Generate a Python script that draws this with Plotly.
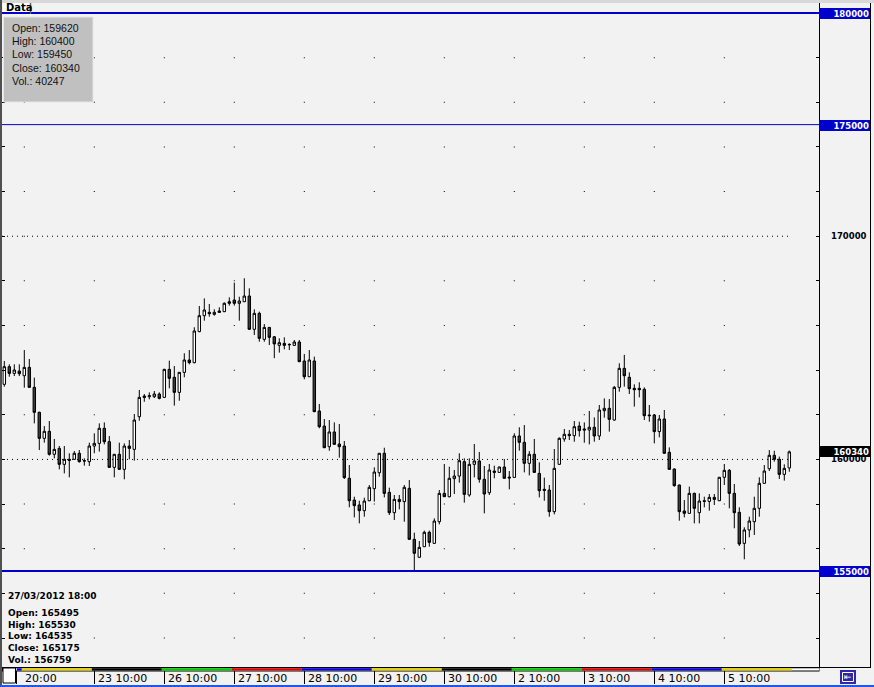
import plotly.graph_objects as go

# ---------------- data (hourly candles) ----------------
open_ = [163365, 164155, 163855, 163960, 163750, 164125, 163230, 162110, 160945, 161260,
         160230, 160495, 159780, 160005, 160005, 160275, 159945, 159900, 160600, 160720,
         161395, 160795, 159645, 160230, 159555, 160600, 160450, 161915, 162840, 162810,
         162810, 162930, 162780, 164035, 163680, 163005, 163900, 164455, 164335, 165725,
         166440, 166590, 166500, 166650, 166620, 167065, 167140, 166995, 167065, 167320,
         165830, 166545, 165380, 165915, 165495, 165110, 165200, 165155, 165110, 165260,
         164410, 163705, 164410, 162170, 161495, 160570, 161230, 160690, 160600, 159155,
         158180, 157960, 157705, 158150, 158690, 159405, 160275, 158525, 157615, 158210,
         158110, 158705, 156420, 155615, 156090, 156735, 156240, 157210, 158480, 158330,
         159140, 159255, 159900, 158405, 159780, 159930, 159110, 158510, 159480, 159420,
         159660, 159210, 159195, 161050, 160765, 159825, 160230, 159375, 158660, 158630,
         157660, 159780, 160915, 161125, 161065, 161495, 161365, 161320, 161440, 161050,
         162185, 162290, 161765, 163230, 164080, 163680, 163185, 163185, 163140, 161990,
         161990, 161245, 161810, 160320, 159570, 158855, 157690, 157585, 158480, 157615,
         158150, 158120, 158300, 158150, 159200, 159510, 158480, 157630, 156240, 156840,
         157210, 157810, 158930, 159585, 160185, 160005, 159330, 159620]
high = [164410, 164260, 164260, 164260, 164900, 164500, 163665, 162140, 161495, 161720,
        160915, 160600, 160600, 160275, 160375, 160420, 160050, 160750, 161170, 161615,
        161660, 161050, 160245, 160750, 160720, 160870, 162035, 163110, 162930, 163005,
        163065, 163005, 164060, 164425, 164185, 163920, 164755, 164900, 165920, 166875,
        167215, 166965, 166725, 166815, 167035, 167260, 167920, 167290, 168115, 167665,
        166725, 166620, 166065, 165930, 165530, 165425, 165470, 165200, 165350, 165350,
        164725, 164900, 164605, 162485, 161810, 161765, 161660, 161585, 160825, 159750,
        158330, 158150, 158285, 158855, 159645, 160290, 160525, 158735, 158405, 158405,
        158855, 159080, 156720, 156345, 156810, 156810, 157360, 158630, 159795, 159675,
        159525, 160275, 160050, 160050, 160690, 160335, 159705, 159795, 159720, 159680,
        160020, 159480, 161170, 161440, 161540, 160375, 160915, 159870, 159185, 158855,
        160465, 160990, 161365, 161320, 161720, 161690, 161660, 162170, 161885, 162440,
        162735, 162705, 163290, 164305, 164680, 163900, 163365, 163455, 163230, 162440,
        162035, 161990, 162215, 160540, 159600, 158870, 158180, 158780, 158510, 158480,
        158330, 158450, 158450, 159215, 159795, 159570, 158900, 157855, 156960, 157435,
        158330, 159200, 159750, 160420, 160390, 160125, 159780, 160400]
low = [163260, 163705, 163735, 163735, 163215, 163200, 161615, 160420, 160750, 160170,
       160050, 159555, 159375, 159200, 159975, 159855, 159720, 159705, 160275, 160350,
       160675, 159620, 159200, 159530, 159110, 160005, 159945, 161735, 162585, 162690,
       162750, 162690, 162760, 163185, 162410, 162630, 163680, 164260, 164305, 165700,
       166215, 166395, 166440, 166575, 166600, 166890, 166890, 166215, 167050, 165810,
       165575, 165275, 165275, 165125, 164535, 164785, 164930, 164900, 165100, 164360,
       163590, 163690, 162120, 161395, 160510, 160390, 160660, 160080, 159125, 157855,
       157405, 157135, 157435, 158130, 158110, 159230, 158300, 157510, 157285, 157765,
       157210, 156400, 155020, 155600, 156080, 156090, 156225, 157090, 158320, 158300,
       158450, 158960, 158065, 158330, 159195, 158960, 157585, 158405, 159155, 159400,
       159140, 158660, 159180, 160395, 159420, 159285, 159405, 158300, 158150, 157435,
       157540, 159760, 160795, 160870, 160795, 161020, 160750, 160675, 160795, 160870,
       161870, 161245, 161735, 163035, 163260, 162930, 162365, 162780, 161765, 161690,
       160720, 160990, 160255, 159540, 158780, 157255, 157405, 157570, 157135, 157135,
       157855, 157705, 157960, 158135, 158855, 157810, 156915, 156120, 155525, 156510,
       156615, 157435, 158915, 159480, 159900, 159125, 159050, 159450]
close = [164155, 163855, 164005, 163840, 164125, 163230, 162110, 160945, 161260, 160230,
         160450, 159780, 160005, 159960, 160275, 159900, 159930, 160600, 160720, 161395,
         160795, 159645, 160230, 159555, 160600, 160495, 161765, 162780, 162780, 162855,
         162930, 162735, 164035, 163635, 163005, 163900, 164455, 164335, 165755, 166440,
         166695, 166530, 166590, 166590, 166995, 166995, 166995, 167095, 167320, 165830,
         166545, 165425, 165915, 165470, 165175, 165230, 165110, 165140, 165260, 164380,
         163705, 164455, 162140, 161465, 160525, 161230, 160675, 160570, 159185, 158150,
         157930, 157705, 158135, 158750, 159435, 160275, 158480, 157615, 158210, 158110,
         158750, 156420, 155795, 156060, 156735, 156285, 157240, 158480, 158330, 159155,
         159255, 159945, 158435, 159780, 159930, 159110, 158450, 159525, 159420, 159660,
         159155, 159170, 161050, 160765, 159825, 160230, 159420, 158600, 158615, 157660,
         159600, 160945, 161125, 161065, 161465, 161290, 161320, 161440, 161050, 162215,
         162290, 161795, 163230, 164080, 163750, 163170, 163125, 163125, 161960, 161960,
         161245, 161810, 160275, 159555, 158825, 157660, 157585, 158480, 157810, 158135,
         158120, 158300, 158210, 159200, 159510, 158480, 157615, 156210, 156840, 157240,
         157810, 158930, 159480, 160185, 160005, 159330, 159600, 160340]
last_volume = 40247

info_index = 54
info_label = "27/03/2012 18:00"
info_volume = 156759

tick_pos = [2.5, 18, 32, 46, 60, 74, 88, 102, 116, 130, 144]
tick_text = ["20:00", "23 10:00", "26 10:00", "27 10:00", "28 10:00", "29 10:00",
             "30 10:00", "2 10:00", "3 10:00", "4 10:00", "5 10:00"]
day_bounds = [2.5, 3.5, 17.5, 31.5, 45.5, 59.5, 73.5, 87.5, 101.5, 115.5, 129.5, 143.5, 157.5]
day_colors = ["#0000e0", "#e6d200", "#000000", "#00cc00", "#e00000", "#0000e0",
              "#e6d200", "#000000", "#00cc00", "#e00000", "#0000e0", "#e6d200"]
grid_cols = [4, 18, 32, 46, 60, 74, 88, 102, 116, 130, 144]
price_grid = list(range(152000, 180001, 2000))
major_levels = [170000, 160000]
level_lines = [180000, 175000, 155000]
level_widths = [2, 1, 2]

# ---------------- layout geometry ----------------
FW, FH = 874, 687
ML, MR, MT, MB = 2, 55, 3, 20
PW, PH = FW - ML - MR, FH - MT - MB
X_RANGE = [-0.46, -0.46 + PW / 5.0]
Y_RANGE = [150701, 180448]
BLUE = "#0000cc"
BG = "#f2f2f2"
FONT = "DejaVu Sans"


def px(xp):
    return (xp - ML) / PW


def py(yp):
    return (FH - MB - yp) / PH


n = len(open_)
xs = list(range(n))

fig = go.Figure()
fig.add_trace(go.Candlestick(
    x=xs, open=open_, high=high, low=low, close=close,
    increasing=dict(line=dict(color="black", width=1), fillcolor="white"),
    decreasing=dict(line=dict(color="black", width=1), fillcolor="#3a3a3a"),
    whiskerwidth=0, hoverinfo="skip", showlegend=False,
))

shapes = []
# dotted major grid lines
for v in major_levels:
    shapes.append(dict(type="line", xref="paper", yref="y", x0=0, x1=px(791), y0=v, y1=v,
                       line=dict(color="black", width=1, dash="1px,4px"), layer="below"))
# grid dots
for c in grid_cols:
    for v in price_grid:
        shapes.append(dict(type="rect", xref="x", yref="y", x0=c - 0.1, x1=c + 0.1,
                           y0=v - 22, y1=v + 22, fillcolor="black", line=dict(width=0),
                           layer="below"))
# level lines
for v, w in zip(level_lines, level_widths):
    shapes.append(dict(type="line", xref="paper", yref="y", x0=0, x1=1, y0=v, y1=v,
                       line=dict(color=BLUE, width=w), layer="above"))

# window top bar and left edge
shapes.append(dict(type="rect", xref="paper", yref="paper", x0=px(0), x1=px(FW), y0=py(0), y1=py(3),
                   fillcolor="#d8d8d8", line=dict(width=0), layer="above"))
shapes.append(dict(type="rect", xref="paper", yref="paper", x0=px(0), x1=px(2), y0=py(0), y1=py(685),
                   fillcolor="#505050", line=dict(width=0), layer="above"))
# Data tab
shapes.append(dict(type="rect", xref="paper", yref="paper", x0=px(3), x1=px(30), y0=py(3), y1=py(12),
                   fillcolor="white", line=dict(width=0), layer="above"))
shapes.append(dict(type="line", xref="paper", yref="paper", x0=px(30.5), x1=px(30.5), y0=py(3), y1=py(14),
                   line=dict(color="#606060", width=1.5), layer="above"))
# data window box
shapes.append(dict(type="rect", xref="paper", yref="paper", x0=px(3.5), x1=px(93), y0=py(17), y1=py(102),
                   fillcolor="#c0c0c0", line=dict(color="#e6e6e6", width=1), layer="above"))
# right axis column
shapes.append(dict(type="line", xref="paper", yref="paper", x0=px(870.5), x1=px(870.5), y0=py(3), y1=py(668),
                   line=dict(color="black", width=1), layer="above"))
shapes.append(dict(type="line", xref="paper", yref="paper", x0=px(819), x1=px(871), y0=py(667.5), y1=py(667.5),
                   line=dict(color="black", width=1), layer="above"))
# bottom day band
shapes.append(dict(type="rect", xref="paper", yref="paper", x0=px(2), x1=px(819.5), y0=py(667), y1=py(671.5),
                   fillcolor="black", line=dict(width=0), layer="above"))
shapes.append(dict(type="rect", xref="paper", yref="paper", x0=px(3), x1=px(819), y0=py(668.3), y1=py(670.5),
                   fillcolor="white", line=dict(width=0), layer="above"))
for i, col in enumerate(day_colors):
    shapes.append(dict(type="rect", xref="x", yref="paper", x0=day_bounds[i], x1=day_bounds[i + 1],
                       y0=py(668.3), y1=py(670.5), fillcolor=col, line=dict(width=0), layer="above"))
# little white box bottom-left
shapes.append(dict(type="rect", xref="paper", yref="paper", x0=px(3), x1=px(15.5), y0=py(668), y1=py(683),
                   fillcolor="white", line=dict(color="black", width=1), layer="above"))
# bottom-right icon
shapes.append(dict(type="rect", xref="paper", yref="paper", x0=px(840), x1=px(856), y0=py(670), y1=py(684),
                   fillcolor="#3326a6", line=dict(width=0), layer="above"))
shapes.append(dict(type="rect", xref="paper", yref="paper", x0=px(842.5), x1=px(853.5), y0=py(672.5), y1=py(681.5),
                   fillcolor="rgba(0,0,0,0)", line=dict(color="white", width=1), layer="above"))
# bottom window line
shapes.append(dict(type="rect", xref="paper", yref="paper", x0=px(0), x1=px(FW), y0=py(685), y1=py(687),
                   fillcolor="#1a5af0", line=dict(width=0), layer="above"))

ann = []
# x-axis labels (left aligned after the tick)
for i, (p, t) in enumerate(zip(tick_pos, tick_text)):
    ann.append(dict(xref="x", yref="paper", x=p, y=py(678), xanchor="left", yanchor="middle",
                    xshift=6 if i == 0 else 2, text=t, showarrow=False,
                    font=dict(family=FONT, size=11, color="black")))
# right axis labels
for v in major_levels:
    ann.append(dict(xref="paper", yref="y", x=px(868.5), y=v, xanchor="right", yanchor="middle",
                    text="<b>%d</b>" % v, showarrow=False,
                    font=dict(family=FONT, size=8.5, color="black")))
for v in level_lines:
    ann.append(dict(xref="paper", yref="y", x=px(819.5), y=v, xanchor="left", yanchor="middle",
                    yshift=-0.5, text="<b>%d</b>" % v, showarrow=False, width=49, height=9,
                    align="right", valign="middle", borderpad=1, borderwidth=0, bgcolor=BLUE,
                    font=dict(family=FONT, size=8.5, color="white")))
ann.append(dict(xref="paper", yref="y", x=px(819.5), y=close[-1], xanchor="left", yanchor="middle",
                text="<b>%d</b>" % close[-1], showarrow=False, width=49, height=9,
                align="right", valign="middle", borderpad=1, borderwidth=0, bgcolor="black",
                font=dict(family=FONT, size=8.5, color="white")))
# Data tab
ann.append(dict(xref="paper", yref="paper", x=px(4), y=py(7.5), xanchor="left", yanchor="middle",
                text="<b>Data</b>", showarrow=False, font=dict(family=FONT, size=10, color="black")))
# data window
box_lines = ["Open: %d" % open_[-1], "High: %d" % high[-1], "Low: %d" % low[-1],
             "Close: %d" % close[-1], "Vol.: %d" % last_volume]
for k, t in enumerate(box_lines):
    ann.append(dict(xref="paper", yref="paper", x=px(9.5), y=py(28.3 + 13.1 * k), xanchor="left",
                    yanchor="middle", text=t, showarrow=False,
                    font=dict(family="Liberation Sans", size=10.5, color="#111111")))
# bottom-left info
info_lines = [info_label, "Open: %d" % open_[info_index], "High: %d" % high[info_index],
              "Low: %d" % low[info_index], "Close: %d" % close[info_index], "Vol.: %d" % info_volume]
info_y = [596, 612.7, 624.5, 636.2, 648.2, 660]
for t, yy in zip(info_lines, info_y):
    ann.append(dict(xref="paper", yref="paper", x=px(5.5), y=py(yy), xanchor="left", yanchor="middle",
                    text="<b>%s</b>" % t, showarrow=False,
                    font=dict(family=FONT, size=9, color="black")))
# icon glyph
ann.append(dict(xref="paper", yref="paper", x=px(848), y=py(677), xanchor="center", yanchor="middle",
                text="⇤", showarrow=False, font=dict(family=FONT, size=9, color="white")))

fig.update_layout(
    width=FW, height=FH,
    margin=dict(l=ML, r=MR, t=MT, b=MB, pad=0),
    paper_bgcolor=BG, plot_bgcolor=BG,
    showlegend=False,
    shapes=shapes, annotations=ann,
    xaxis=dict(range=X_RANGE, rangeslider=dict(visible=False), showgrid=False, zeroline=False,
               showline=True, linecolor="black", linewidth=1, ticks="outside", tickvals=tick_pos,
               ticklen=16, tickwidth=1, tickcolor="black", showticklabels=False, fixedrange=True),
    yaxis=dict(range=Y_RANGE, side="right", showgrid=False, zeroline=False, showline=True,
               mirror="ticks", linecolor="black", linewidth=1, ticks="inside", tickvals=price_grid,
               ticklen=3, tickwidth=1, tickcolor="black", showticklabels=False, fixedrange=True),
)

fig.write_html("out.html", config={"displayModeBar": False},
               post_script="document.body.style.margin='0';document.body.style.overflow='hidden';")
